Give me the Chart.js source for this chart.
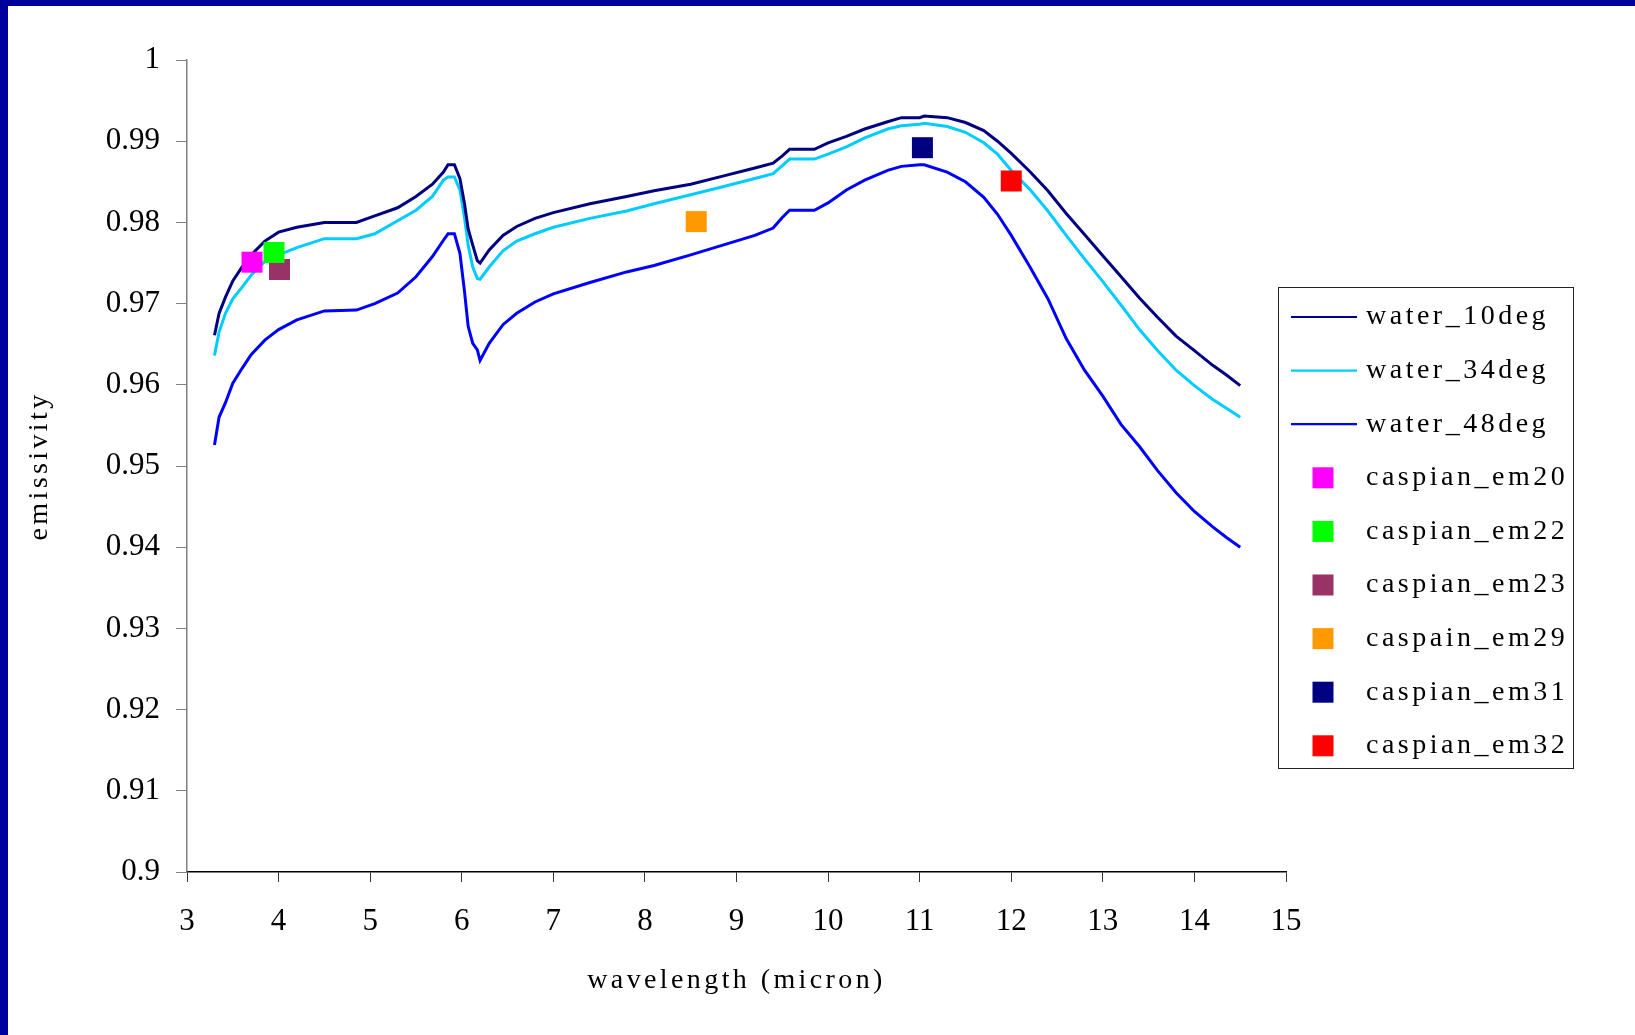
<!DOCTYPE html>
<html>
<head>
<meta charset="utf-8">
<script src="https://cdn.jsdelivr.net/npm/chart.js@4/dist/chart.umd.min.js"></script>
<style>
  html, body { margin: 0; padding: 0; background: #fff; }
  canvas { display: block; }
</style>
</head>
<body>
<canvas id="emisChart" width="1635" height="1035"></canvas>
<script>
const wavelengths = [3.3, 3.35, 3.42, 3.5, 3.6, 3.7, 3.85, 4.0, 4.2, 4.5, 4.85, 5.05, 5.3, 5.5, 5.68, 5.8, 5.85, 5.92,
  5.98, 6.03, 6.07, 6.12, 6.17, 6.2, 6.3, 6.45, 6.6, 6.8, 7.0, 7.4, 7.8, 8.1, 8.5, 8.85, 9.2, 9.4, 9.5, 9.58, 9.85,
  10.0, 10.2, 10.4, 10.65, 10.8, 11.0, 11.05, 11.3, 11.5, 11.7, 11.85, 12.0, 12.2, 12.4, 12.6, 12.8, 13.0, 13.2,
  13.4, 13.6, 13.8, 14.0, 14.2, 14.35, 14.5];

const water10 = [0.9661, 0.9688, 0.9708, 0.9728, 0.9745, 0.9760, 0.9777, 0.9788, 0.9794, 0.9800, 0.9800, 0.9808,
  0.9818, 0.9832, 0.9847, 0.9862, 0.9871, 0.9871, 0.9854, 0.9823, 0.9792, 0.9772, 0.9753, 0.9750, 0.9766, 0.9784,
  0.9795, 0.9805, 0.9812, 0.9823, 0.9832, 0.9839, 0.9847, 0.9857, 0.9867, 0.9873, 0.9882, 0.9890, 0.9890, 0.9898,
  0.9906, 0.9915, 0.9924, 0.9929, 0.9929, 0.9931, 0.9929, 0.9923, 0.9913, 0.9900, 0.9885, 0.9863, 0.9839, 0.9811,
  0.9785, 0.9759, 0.9733, 0.9707, 0.9683, 0.9660, 0.9642, 0.9624, 0.9612, 0.9599];

const water34 = [0.9636, 0.9665, 0.9688, 0.9706, 0.9720, 0.9735, 0.9752, 0.9760, 0.9769, 0.9780, 0.9780, 0.9786,
  0.9802, 0.9815, 0.9832, 0.9852, 0.9856, 0.9856, 0.9840, 0.9806, 0.9772, 0.9745, 0.9731, 0.9730, 0.9745, 0.9765,
  0.9777, 0.9786, 0.9794, 0.9805, 0.9814, 0.9823, 0.9834, 0.9844, 0.9854, 0.9860, 0.9870, 0.9878, 0.9878, 0.9884,
  0.9893, 0.9904, 0.9915, 0.9919, 0.9921, 0.9922, 0.9918, 0.9911, 0.9898, 0.9884, 0.9864, 0.9841, 0.9814, 0.9784,
  0.9755, 0.9727, 0.9698, 0.9668, 0.9642, 0.9618, 0.9599, 0.9582, 0.9571, 0.9560];

const water48 = [0.9526, 0.9560, 0.9578, 0.9602, 0.9620, 0.9637, 0.9655, 0.9668, 0.9680, 0.9691, 0.9692, 0.9700,
  0.9713, 0.9733, 0.9758, 0.9778, 0.9786, 0.9786, 0.9762, 0.9715, 0.9672, 0.9651, 0.9643, 0.9630, 0.9651, 0.9674,
  0.9688, 0.9702, 0.9712, 0.9726, 0.9739, 0.9747, 0.9760, 0.9772, 0.9784, 0.9793, 0.9806, 0.9815, 0.9815, 0.9824,
  0.9840, 0.9852, 0.9864, 0.9869, 0.9871, 0.9871, 0.9862, 0.9850, 0.9831, 0.9810, 0.9784, 0.9746, 0.9706, 0.9657,
  0.9618, 0.9586, 0.9551, 0.9524, 0.9494, 0.9467, 0.9444, 0.9425, 0.9412, 0.9400];

const bandLabels = ['caspian_em20', 'caspian_em22', 'caspian_em23', 'caspain_em29', 'caspian_em31', 'caspian_em32'];
const bandWavelengths = [3.71, 3.95, 4.01, 8.56, 11.03, 12.0];
const bandEmissivity = [0.9751, 0.9763, 0.9742, 0.9801, 0.9892, 0.9851];
const bandColors = ['#FF00FF', '#00FF00', '#993366', '#FF9900', '#000080', '#FF0000'];

const serif = '"Liberation Serif", "Times New Roman", serif';

function curve(label, values, color) {
    return {
        label: label,
        data: wavelengths.map((w, i) => ({x: w, y: values[i]})),
        showLine: true,
        borderColor: color,
        backgroundColor: color,
        borderWidth: 3,
        pointRadius: 0,
        tension: 0,
        order: 1
    };
}

const datasets = [
    curve('water_10deg', water10, '#000080'),
    curve('water_34deg', water34, '#00CCFF'),
    curve('water_48deg', water48, '#0000FF')
];
bandLabels.forEach(function(name, i){
    datasets.push({
        label: name,
        data: [{x: bandWavelengths[i], y: bandEmissivity[i]}],
        pointStyle: 'rect',
        pointRadius: 14.85,
        backgroundColor: bandColors[i],
        borderWidth: 0,
        order: 0
    });
});

// white page, blue frame, spaced titles and the boxed legend
const framePlugin = {
    id: 'frame',
    beforeDraw(chart) {
        const ctx = chart.ctx;
        ctx.save();
        ctx.fillStyle = '#ffffff';
        ctx.fillRect(0, 0, chart.width, chart.height);
        ctx.fillStyle = '#00009C';
        ctx.fillRect(0, 0, chart.width, 6);
        ctx.fillRect(0, 0, 8, chart.height);
        ctx.restore();
        ctx.letterSpacing = '3.4px';
    },
    beforeDatasetsDraw(chart) {
        chart.ctx.letterSpacing = '0px';
    },
    afterDraw(chart) {
        const ctx = chart.ctx;
        ctx.save();
        ctx.strokeStyle = '#222';
        ctx.lineWidth = 1;
        ctx.strokeRect(1278.5, 287.5, 295, 481);
        ctx.font = '28px ' + serif;
        ctx.textBaseline = 'middle';
        ctx.textAlign = 'left';
        chart.data.datasets.forEach(function(ds, i){
            const y = 317 + i * 53.6;
            if (ds.showLine) {
                ctx.strokeStyle = ds.borderColor;
                ctx.lineWidth = 2.2;
                ctx.beginPath();
                ctx.moveTo(1291, y);
                ctx.lineTo(1357, y);
                ctx.stroke();
            } else {
                ctx.fillStyle = ds.backgroundColor;
                ctx.fillRect(1312.5, y - 10.5, 21, 21);
            }
            ctx.fillStyle = '#000';
            ctx.letterSpacing = '3.5px';
            ctx.fillText(ds.label, 1366, y);
        });
        ctx.restore();
        ctx.letterSpacing = '0px';
    }
};

new Chart(document.getElementById('emisChart'), {
    type: 'scatter',
    data: {datasets: datasets},
    options: {
        responsive: false,
        animation: false,
        devicePixelRatio: 1,
        layout: {padding: {left: 0, top: 60, right: 349, bottom: 0}},
        plugins: {
            legend: {display: false},
            tooltip: {enabled: false}
        },
        scales: {
            x: {
                type: 'linear',
                min: 3,
                max: 15,
                afterFit: function(scale){ scale.height = 163; },
                ticks: {
                    stepSize: 1,
                    z: 1,
                    padding: 21,
                    color: '#000',
                    font: {family: serif, size: 31}
                },
                grid: {
                    drawOnChartArea: false,
                    drawTicks: true,
                    tickLength: 10,
                    tickColor: '#333'
                },
                border: {color: '#000', width: 1.5},
                title: {
                    display: true,
                    text: 'wavelength (micron)',
                    color: '#000',
                    font: {family: serif, size: 28},
                    padding: {top: 0, bottom: 38}
                }
            },
            y: {
                type: 'linear',
                min: 0.9,
                max: 1,
                afterFit: function(scale){ scale.width = 187; },
                ticks: {
                    stepSize: 0.01,
                    z: 1,
                    padding: 16,
                    color: '#000',
                    font: {family: serif, size: 31},
                    callback: function(v){ return String(+v.toFixed(2)); }
                },
                grid: {
                    drawOnChartArea: false,
                    drawTicks: true,
                    tickLength: 11,
                    tickColor: '#808080'
                },
                border: {color: '#808080', width: 1.5},
                title: {
                    display: true,
                    text: 'emissivity',
                    color: '#000',
                    font: {family: serif, size: 28},
                    padding: {top: 23, bottom: 0}
                }
            }
        }
    },
    plugins: [framePlugin]
});
</script>
</body>
</html>
